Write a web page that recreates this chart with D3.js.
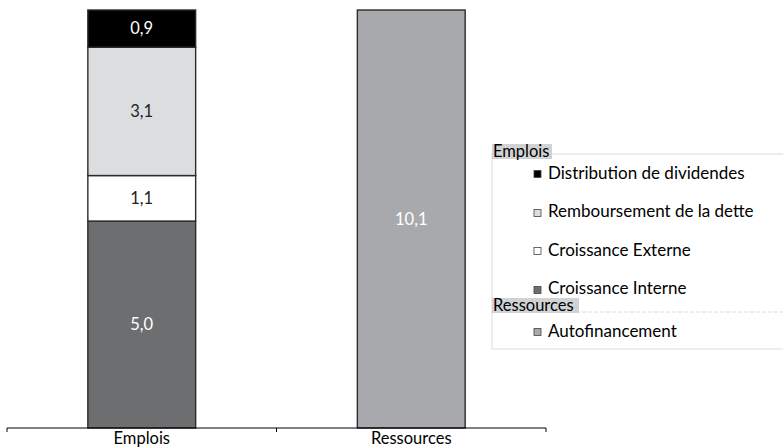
<!DOCTYPE html>
<html>
<head>
<meta charset="utf-8">
<script src="https://cdn.jsdelivr.net/npm/d3@7"></script>
<style>
  html, body { margin: 0; padding: 0; background: #fff; }
  svg { display: block; font-family: Lato, "Open Sans", sans-serif; }
</style>
</head>
<body>
<svg id="chart" width="783" height="448"></svg>
<script>
// Emploi / ressource categories on the x axis
const categories = ["Emplois", "Ressources"];

// Stacked segments of the "Emplois" bar, from bottom to top
const emploisSeries = ["Croissance Interne", "Croissance Externe", "Remboursement de la dette", "Distribution de dividendes"];
const emploisValues = [5.0, 1.1, 3.1, 0.9];
const emploisColors = ["#6d6e70", "#ffffff", "#dcdddf", "#000000"];
const emploisTextColors = ["#ffffff", "#231f20", "#231f20", "#ffffff"];

// Single segment of the "Ressources" bar
const ressourcesSeries = ["Autofinancement"];
const ressourcesValues = [10.1];
const ressourcesColors = ["#a7a9ac"];
const ressourcesTextColors = ["#ffffff"];

// Legend order, grouped under their headers
const legendGroups = [
  { title: "Emplois", items: ["Distribution de dividendes", "Remboursement de la dette", "Croissance Externe", "Croissance Interne"] },
  { title: "Ressources", items: ["Autofinancement"] }
];

const fmt = v => v.toFixed(1).replace(".", ",");

const svg = d3.select("#chart");

const x = d3.scaleBand().domain(categories).range([7, 546]).padding(0);
const y = d3.scaleLinear().domain([0, 10.1]).range([428, 10]);
const barW = x.bandwidth() * 0.4;

function stack(values, names, colors, textColors) {
  let acc = 0;
  return values.map((v, i) => {
    const d = { name: names[i], value: v, y0: acc, y1: acc + v, color: colors[i], text: textColors[i] };
    acc += v;
    return d;
  });
}

const bars = [
  { cat: "Emplois", segs: stack(emploisValues, emploisSeries, emploisColors, emploisTextColors) },
  { cat: "Ressources", segs: stack(ressourcesValues, ressourcesSeries, ressourcesColors, ressourcesTextColors) }
];
const colorOf = {};
bars.forEach(b => b.segs.forEach(s => colorOf[s.name] = s.color));

const barG = svg.append("g").selectAll("g").data(bars).join("g")
  .attr("transform", d => `translate(${x(d.cat) + x.bandwidth() / 2 - barW / 2},0)`);

barG.selectAll("rect").data(d => d.segs).join("rect")
  .attr("x", 0)
  .attr("width", barW)
  .attr("y", d => y(d.y1))
  .attr("height", d => y(d.y0) - y(d.y1))
  .attr("fill", d => d.color)
  .attr("stroke", "#2b2b2b")
  .attr("stroke-width", 1.4);

barG.selectAll("text").data(d => d.segs).join("text")
  .attr("x", barW / 2)
  .attr("y", d => (y(d.y0) + y(d.y1)) / 2)
  .attr("dy", "0.35em")
  .attr("text-anchor", "middle")
  .attr("font-size", 16.5)
  .attr("fill", d => d.text)
  .text(d => fmt(d.value));

// Category axis: line with ticks on the band boundaries
const axisG = svg.append("g").attr("transform", "translate(0,428)");
axisG.call(d3.axisBottom(x).tickSize(0).tickPadding(4))
  .call(g => g.select(".domain").remove())
  .call(g => g.selectAll("text").attr("font-size", 16.5).attr("fill", "#000").attr("font-family", "Lato, sans-serif"));
axisG.append("line").attr("x1", x.range()[0]).attr("x2", x.range()[1]).attr("stroke", "#000").attr("stroke-width", 1.2);
const bounds = categories.map(c => x(c)).concat([x.range()[1]]);
axisG.selectAll("line.bound").data(bounds).join("line")
  .attr("class", "bound")
  .attr("x1", d => d).attr("x2", d => d)
  .attr("y1", 0).attr("y2", 4)
  .attr("stroke", "#000").attr("stroke-width", 1);

// Legend
const lg = svg.append("g");
const lx = 492, ltop = 154, lbottom = 349;
lg.append("rect").attr("x", lx).attr("y", ltop).attr("width", 400).attr("height", lbottom - ltop)
  .attr("fill", "#fff").attr("stroke", "#dcdcdc").attr("stroke-width", 1);

const headerY = [157, 311];
const itemY = [[179, 217, 256, 294], [337]];
const headerW = [60, 87];

legendGroups.forEach((g, gi) => {
  if (gi > 0) {
    lg.append("line").attr("x1", lx).attr("x2", 783).attr("y1", headerY[gi] + 1).attr("y2", headerY[gi] + 1)
      .attr("stroke", "#dcdcdc").attr("stroke-dasharray", "4,2");
  }
  lg.append("rect").attr("x", lx).attr("y", headerY[gi] - 13).attr("width", headerW[gi]).attr("height", 15)
    .attr("fill", "#d1d2d4");
  lg.append("text").attr("x", lx + 1).attr("y", headerY[gi]).attr("font-size", 16.5).attr("fill", "#000").text(g.title);

  g.items.forEach((name, i) => {
    const by = itemY[gi][i];
    const low = (name === "Remboursement de la dette" || name === "Croissance Interne");
    lg.append("rect").attr("x", 534).attr("y", by - (low ? 7.5 : 8.5)).attr("width", 7).attr("height", 7)
      .attr("fill", colorOf[name]).attr("stroke", "#444").attr("stroke-width", 0.8);
    lg.append("text").attr("x", 548).attr("y", by).attr("font-size", 17).attr("fill", "#000").text(name);
  });
});
</script>
</body>
</html>
